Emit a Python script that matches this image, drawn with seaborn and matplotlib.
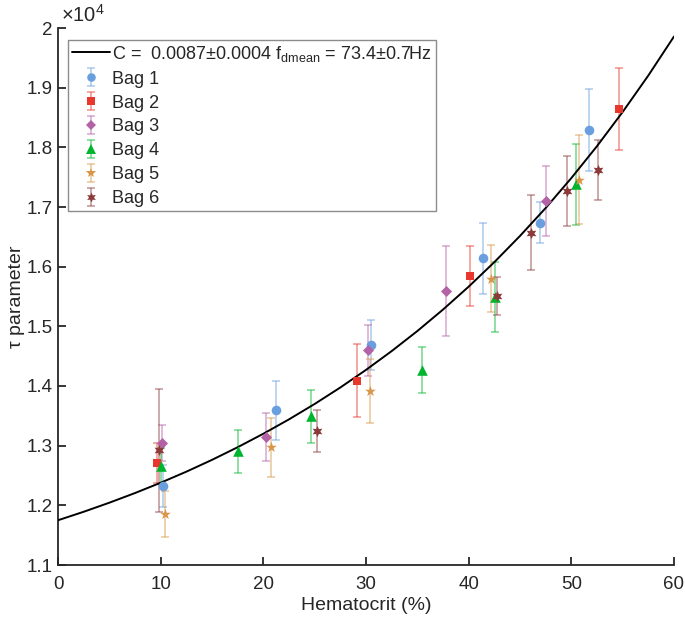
import numpy as np
import pandas as pd
import matplotlib
matplotlib.use("Agg")
import matplotlib.pyplot as plt
from matplotlib.lines import Line2D
import seaborn as sns

# ---------------- data ----------------
bag_names = ["Bag 1", "Bag 2", "Bag 3", "Bag 4", "Bag 5", "Bag 6"]

bag1_x = [10.2, 21.2, 30.5, 41.4, 46.9, 51.7]
bag1_y = [12330, 13590, 14690, 16145, 16740, 18290]
bag1_e = [350, 500, 420, 595, 340, 690]

bag2_x = [9.6, 29.1, 40.1, 54.6]
bag2_y = [12710, 14090, 15840, 18640]
bag2_e = [340, 615, 505, 690]

bag3_x = [10.1, 20.3, 30.2, 37.8, 47.5]
bag3_y = [13045, 13145, 14595, 15590, 17100]
bag3_e = [300, 405, 435, 750, 593]

bag4_x = [10.0, 17.5, 24.6, 35.5, 42.6, 50.5]
bag4_y = [12655, 12905, 13490, 14270, 15490, 17380]
bag4_e = [300, 365, 450, 385, 590, 677]

bag5_x = [10.45, 20.7, 30.4, 42.2, 50.7]
bag5_y = [11850, 12970, 13910, 15795, 17460]
bag5_e = [385, 495, 535, 560, 744]

bag6_x = [9.8, 25.2, 42.8, 46.1, 49.6, 52.6]
bag6_y = [12920, 13245, 15510, 16570, 17270, 17620]
bag6_e = [1035, 357, 314, 627, 585, 500]

# fitted curve, every 2.5 % hematocrit
fit_x = [0, 2.5, 5, 7.5, 10, 12.5, 15, 17.5, 20, 22.5, 25, 27.5, 30,
         32.5, 35, 37.5, 40, 42.5, 45, 47.5, 50, 52.5, 55, 57.5, 60]
fit_y = [11750, 11892, 12044, 12206, 12379, 12564, 12762, 12974, 13200,
         13441, 13699, 13975, 14270, 14585, 14921, 15281, 15665, 16076,
         16515, 16983, 17485, 18020, 18593, 19204, 19858]
fit_label = "C =  0.0087±0.0004 f$_{\\mathrm{dmean}}$ = 73.4±0.7Hz"

x_ticks = [0, 10, 20, 30, 40, 50, 60]
y_ticks = [11000, 12000, 13000, 14000, 15000, 16000, 17000, 18000, 19000, 20000]
y_tick_labels = ["1.1", "1.2", "1.3", "1.4", "1.5", "1.6", "1.7", "1.8", "1.9", "2"]

# ---------------- styles ----------------
colors = {"Bag 1": "#6a9fdf", "Bag 2": "#e8372c", "Bag 3": "#b462a6",
          "Bag 4": "#00b52e", "Bag 5": "#d99548", "Bag 6": "#8c3b3b"}
markers = {"Bag 1": "o", "Bag 2": "s", "Bag 3": "D", "Bag 4": "^",
           "Bag 5": "*", "Bag 6": (6, 1, 0)}
sizes = {"Bag 1": 48, "Bag 2": 38, "Bag 3": 32, "Bag 4": 58, "Bag 5": 66, "Bag 6": 66}
leg_sizes = {"Bag 1": 38, "Bag 2": 30, "Bag 3": 28, "Bag 4": 48, "Bag 5": 52, "Bag 6": 52}

sns.set_style("white", {"xtick.bottom": True, "ytick.left": True,
                        "xtick.direction": "in", "ytick.direction": "in"})
plt.rcParams["font.family"] = ["Liberation Sans", "DejaVu Sans"]
plt.rcParams["mathtext.fontset"] = "custom"
plt.rcParams["mathtext.rm"] = "Liberation Sans"
plt.rcParams["mathtext.it"] = "Liberation Sans:italic"

xs = [bag1_x, bag2_x, bag3_x, bag4_x, bag5_x, bag6_x]
ys = [bag1_y, bag2_y, bag3_y, bag4_y, bag5_y, bag6_y]
es = [bag1_e, bag2_e, bag3_e, bag4_e, bag5_e, bag6_e]
df = pd.concat([pd.DataFrame({"hct": x, "tau": y, "err": e, "bag": n})
                for n, x, y, e in zip(bag_names, xs, ys, es)], ignore_index=True)
fit_df = pd.DataFrame({"hct": fit_x, "tau": fit_y})

fig = plt.figure(figsize=(6.85, 6.25), dpi=100)
ax = fig.add_axes([58 / 685, 60 / 625, 616 / 685, 537 / 625])

# error bars
for n in bag_names:
    d = df[df.bag == n]
    ax.errorbar(d.hct, d.tau, yerr=d.err, fmt="none", ecolor=colors[n],
                alpha=0.55, elinewidth=1.1, capsize=2.6, capthick=1.1, zorder=2)

# fit curve
sns.lineplot(data=fit_df, x="hct", y="tau", color="black", linewidth=1.4,
             ax=ax, zorder=3, legend=False)

# markers
for n in bag_names:
    d = df[df.bag == n]
    sns.scatterplot(data=d, x="hct", y="tau", color=colors[n], marker=markers[n],
                    s=sizes[n], linewidth=0, ax=ax, zorder=4, legend=False)

ax.set_xlim(0, 60)
ax.set_ylim(11000, 20000)
ax.set_xticks(x_ticks)
ax.set_yticks(y_ticks)
ax.set_yticklabels(y_tick_labels)
ax.tick_params(axis="both", which="major", direction="in", length=6, width=1.3,
               labelsize=13.5, color="#262626", labelcolor="#262626", pad=4,
               bottom=True, left=True, top=False, right=False)
ax.tick_params(axis="x", pad=8)
for s in ["top", "right"]:
    ax.spines[s].set_visible(False)
for s in ["left", "bottom"]:
    ax.spines[s].set_linewidth(1.3)
    ax.spines[s].set_color("#262626")
ax.set_xlabel("Hematocrit (%)", fontsize=14, color="#262626", labelpad=3)
ax.set_ylabel("τ parameter", fontsize=14, color="#262626", labelpad=1)

fig.text(61 / 685, 1 - 15 / 625, "×10$^{4}$", fontsize=14.5, color="#262626",
         va="center", ha="left")

# legend
handles = [Line2D([0], [0], color="black", linewidth=1.4)]
for n in bag_names:
    h = ax.errorbar([np.nan], [np.nan], yerr=[np.nan], fmt="none", ecolor=colors[n],
                    alpha=0.55, elinewidth=1.1, capsize=2.6, capthick=1.1)
    mk = Line2D([0], [0], linestyle="none", marker=markers[n], color=colors[n],
                markersize=np.sqrt(leg_sizes[n]), markeredgewidth=0)
    handles.append((h, mk))
leg = ax.legend(handles, [fit_label] + bag_names, loc="upper left",
                bbox_to_anchor=(0.016, 0.978), borderaxespad=0, fontsize=13,
                frameon=True, fancybox=False, edgecolor="#8c8c8c", framealpha=1,
                handlelength=2.1, handletextpad=0.15, labelspacing=0.38,
                borderpad=0.22)
leg.get_frame().set_linewidth(1.0)
for t in leg.get_texts():
    t.set_color("#262626")

fig.savefig("out.png", dpi=100)
